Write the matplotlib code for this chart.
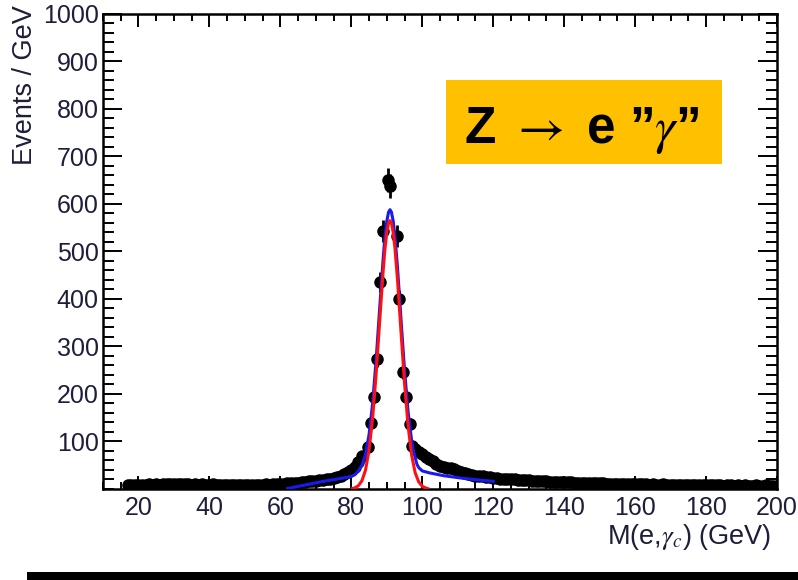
import numpy as np
import matplotlib
matplotlib.use("Agg")
import matplotlib.pyplot as plt
from matplotlib.ticker import MultipleLocator, FixedLocator
from matplotlib.patches import Rectangle

plt.rcParams["font.family"] = ["Liberation Sans", "DejaVu Sans"]
plt.rcParams["mathtext.fontset"] = "stix"

# Data: low-mass side band (1 GeV bins)
left_mass = list(range(17, 84))
left_events = [8, 9, 8, 9, 8, 9, 10, 9, 10, 9, 10, 11, 10, 10, 11, 10, 10, 11, 9, 10,
               9, 10, 9, 9, 10, 9, 8, 9, 9, 8, 9, 8, 9, 8, 9, 8, 9, 9, 9, 10,
               9, 10, 10, 11, 11, 12, 12, 13, 13, 14, 15, 16, 16, 17, 18, 19, 21, 22, 24, 26,
               28, 31, 35, 40, 47, 56, 70]

# Data: peak region
peak_mass = [84.6, 85.6, 86.5, 87.3, 88.2, 89.0, 90.4, 90.8, 92.8, 93.5, 94.5, 95.4, 96.4, 97.2]
peak_events = [88, 139, 194, 273, 436, 544, 650, 638, 532, 399, 247, 194, 137, 90]
peak_err = [9, 12, 14, 16, 21, 23, 25, 25, 23, 20, 16, 14, 12, 9]

# Data: high-mass side band (1 GeV bins)
right_mass = list(range(98, 201))
right_events = [84, 78, 73, 68, 63, 58, 53, 49, 46, 44, 45, 42, 38, 35, 33, 31, 29, 28, 28, 27,
                26, 25, 24, 23, 22, 22, 21, 20, 20, 19, 19, 18, 18, 17, 17, 16, 16, 16, 15, 15,
                15, 14, 14, 14, 14, 13, 13, 13, 13, 12, 12, 12, 12, 12, 11, 11, 11, 11, 11, 10,
                11, 10, 10, 10, 10, 10, 9, 10, 9, 9, 10, 9, 9, 9, 9, 8, 9, 8, 9, 8,
                8, 8, 9, 8, 8, 8, 8, 7, 8, 8, 7, 8, 7, 8, 7, 7, 8, 7, 7, 8,
                7, 7, 7]

# Fit curves
blue_x = [62, 64, 66, 68, 70, 72, 74, 76, 78, 80, 81, 82, 83, 84, 85, 86, 87, 88, 89, 89.5,
          90, 90.5, 90.9, 91.3, 91.8, 92.3, 93, 94, 95, 96, 97, 97.5, 98, 98.5, 99, 100,
          102, 104, 106, 108, 110, 112, 114, 116, 118, 120]
blue_y = [1, 4, 7, 10, 13, 16, 18.5, 21, 23.5, 26.5, 30, 38, 50, 73, 115, 180, 273, 382, 488, 532,
          564, 583, 588, 583, 564, 532, 468, 358, 250, 163, 102, 80, 66, 52, 45, 38,
          34, 31, 28, 26, 24, 22, 20.5, 19, 17.5, 16]

red_x = [80.3, 81, 82, 83, 84, 85, 86, 87, 88, 89, 89.5, 90, 90.5, 90.9, 91.3, 91.8, 92.3,
         93, 94, 95, 96, 97, 98, 99, 100, 101, 101.5]
red_y = [1, 2.4, 7, 17.6, 40, 82, 149, 243, 354, 462, 507, 540, 560, 565, 560, 540, 507,
         442, 331, 222, 133, 71, 34, 15, 5.7, 2, 1]

x_ticks = [20, 40, 60, 80, 100, 120, 140, 160, 180, 200]
y_ticks = [100, 200, 300, 400, 500, 600, 700, 800, 900, 1000]

fig = plt.figure(figsize=(7.98, 5.8), dpi=100)
ax = fig.add_axes([0.1291, 0.1569, 0.8446, 0.819])

ax.plot(left_mass, left_events, "o", color="black", ms=8, zorder=2)
ax.plot(right_mass, right_events, "o", color="black", ms=8, zorder=2)
ax.errorbar(peak_mass, peak_events, yerr=peak_err, fmt="o", color="black",
            ms=8, elinewidth=2, capsize=0, zorder=2)
ax.plot(blue_x, blue_y, color="#1a1aee", lw=2.2, zorder=3)
ax.plot(red_x, red_y, color="#ff1010", lw=2.2, zorder=4)

ax.set_xlim(10, 200)
ax.set_ylim(0, 1000)
ax.xaxis.set_major_locator(FixedLocator(x_ticks))
ax.xaxis.set_minor_locator(MultipleLocator(5))
ax.yaxis.set_major_locator(FixedLocator(y_ticks))
ax.yaxis.set_minor_locator(MultipleLocator(20))

lab_col = "#1e1e3a"
ax.tick_params(axis="both", which="both", direction="in", top=True, right=True,
               width=1.4, colors="black", labelcolor=lab_col, labelsize=18)
ax.tick_params(axis="y", which="major", length=13.5, pad=3)
ax.tick_params(axis="y", which="minor", length=8)
ax.tick_params(axis="x", which="major", length=9.5, pad=5)
ax.tick_params(axis="x", which="minor", length=5)
for sp in ax.spines.values():
    sp.set_linewidth(1.8)

ax.set_ylabel("Events / GeV", fontsize=19.5, color=lab_col, loc="top")
ax.yaxis.set_label_coords(-0.097, 1.019)
ax.set_xlabel(r"M(e,$\gamma_c$) (GeV)", fontsize=19.5, color=lab_col, loc="right")
ax.xaxis.set_label_coords(0.992, -0.07)

# orange label box
fig.patches.append(Rectangle((446 / 798, 1 - 164 / 580), 276 / 798, 84 / 580,
                             transform=fig.transFigure, facecolor="#ffc000",
                             edgecolor="none", zorder=5))
fig.text(0.729, 1 - 142.7 / 580, "Z $\\rightarrow$ e \u201d$\\gamma$\u201d", fontsize=37,
         fontweight="bold", ha="center", va="baseline", zorder=6)

# black bar at the bottom
fig.patches.append(Rectangle((27 / 798, 0), 1 - 27 / 798, 8 / 580,
                             transform=fig.transFigure, facecolor="black",
                             edgecolor="none"))

fig.savefig("out.png", dpi=100)
